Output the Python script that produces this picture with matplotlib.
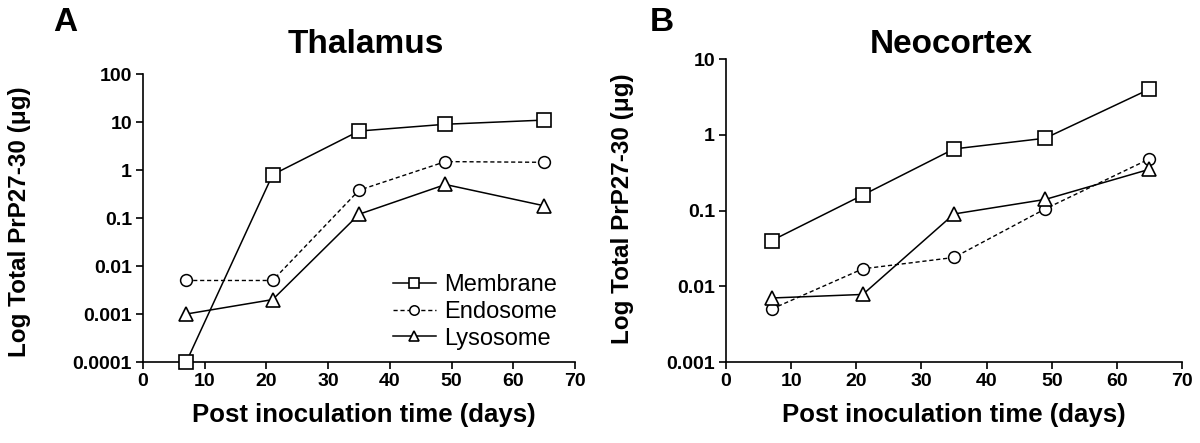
import matplotlib
matplotlib.use("Agg")
import matplotlib.pyplot as plt
from matplotlib.ticker import FixedLocator, NullLocator, FuncFormatter

plt.rcParams["font.family"] = ["Liberation Sans", "DejaVu Sans"]

days = [7, 21, 35, 49, 65]

# Thalamus
thal_membrane = [0.0001, 0.8, 6.5, 9.0, 11.0]
thal_endosome = [0.005, 0.005, 0.38, 1.5, 1.45]
thal_lysosome = [0.001, 0.002, 0.12, 0.5, 0.18]

# Neocortex
neo_membrane = [0.04, 0.16, 0.65, 0.9, 4.0]
neo_endosome = [0.005, 0.017, 0.024, 0.105, 0.48]
neo_lysosome = [0.007, 0.0078, 0.09, 0.14, 0.35]

xticks = [0, 10, 20, 30, 40, 50, 60, 70]
thal_yticks = [0.0001, 0.001, 0.01, 0.1, 1, 10, 100]
neo_yticks = [0.001, 0.01, 0.1, 1, 10]

fig = plt.figure(figsize=(12, 4.43), dpi=100)
axA = fig.add_axes([0.1192, 0.1828, 0.360, 0.650])
axB = fig.add_axes([0.605, 0.1828, 0.380, 0.684])


def draw(ax, mem, endo, lyso, yticks):
    ax.plot(days, mem, "-", color="black", lw=1.1, marker="s", ms=9.5,
            mfc="white", mec="black", mew=1.2, label="Membrane", zorder=3,
            clip_on=False)
    ax.plot(days, endo, "--", color="black", lw=1.0, marker="o", ms=8.5,
            mfc="white", mec="black", mew=1.1, label="Endosome", zorder=3,
            dashes=(3, 2), clip_on=False)
    ax.plot(days, lyso, "-", color="black", lw=1.1, marker="^", ms=9.5,
            mfc="white", mec="black", mew=1.2, label="Lysosome", zorder=3,
            clip_on=False)
    ax.set_yscale("log")
    ax.set_xlim(0, 70)
    ax.set_ylim(yticks[0], yticks[-1])
    ax.yaxis.set_major_locator(FixedLocator(yticks))
    ax.yaxis.set_minor_locator(NullLocator())
    ax.yaxis.set_major_formatter(FuncFormatter(lambda v, p: "%g" % v))
    ax.set_xticks(xticks)
    for s in ["top", "right"]:
        ax.spines[s].set_visible(False)
    for s in ["left", "bottom"]:
        ax.spines[s].set_linewidth(1.2)
    ax.tick_params(direction="out", length=5, width=1.2, labelsize=14, pad=3)
    for lab in ax.get_xticklabels() + ax.get_yticklabels():
        lab.set_fontweight("bold")


draw(axA, thal_membrane, thal_endosome, thal_lysosome, thal_yticks)
draw(axB, neo_membrane, neo_endosome, neo_lysosome, neo_yticks)

ylab = "Log Total PrP27-30 (\u03bcg)"
xlab = "Post inoculation time (days)"
fig.text(20 / 1200, 0.50, ylab, rotation=90, ha="center", va="center",
         fontsize=17.5, fontweight="bold")
fig.text(623 / 1200, 0.53, ylab, rotation=90, ha="center", va="center",
         fontsize=17.5, fontweight="bold")
fig.text(364 / 1200, 0.063, xlab, ha="center", va="center",
         fontsize=18.5, fontweight="bold")
fig.text(954 / 1200, 0.063, xlab, ha="center", va="center",
         fontsize=18.5, fontweight="bold")

fig.text(366 / 1200, 0.90, "Thalamus", ha="center", va="center",
         fontsize=24, fontweight="bold")
fig.text(951 / 1200, 0.90, "Neocortex", ha="center", va="center",
         fontsize=24, fontweight="bold")

fig.text(65 / 1200, 0.95, "A", ha="center", va="center", fontsize=24,
         fontweight="bold")
fig.text(662 / 1200, 0.95, "B", ha="center", va="center", fontsize=24,
         fontweight="bold")

axA.legend(loc="upper left", bbox_to_anchor=(0.579, 0.305), frameon=False,
           fontsize=17, handlelength=1.8, handletextpad=0.35,
           labelspacing=0.2, markerscale=0.8, borderpad=0,
           borderaxespad=0)

fig.savefig("out.png", dpi=100)
